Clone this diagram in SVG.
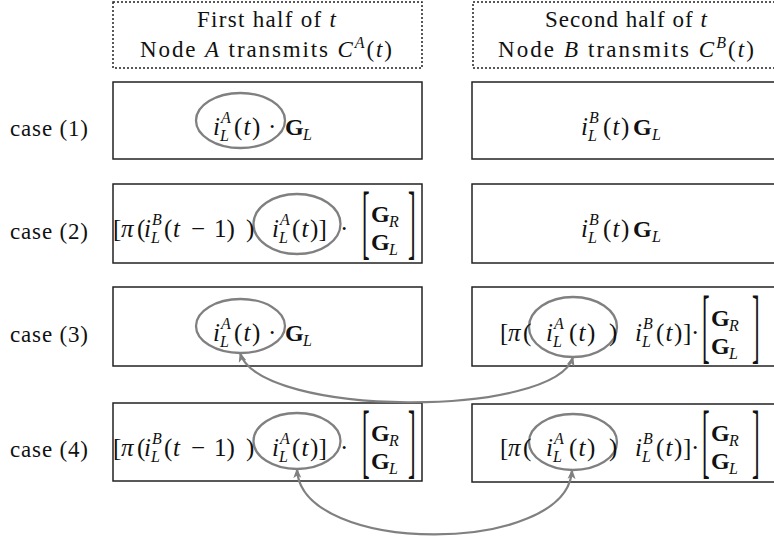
<svg xmlns="http://www.w3.org/2000/svg" width="774" height="542" viewBox="0 0 774 542">
<defs>
<style>
text{font-family:"Liberation Serif",serif;font-size:25px;fill:#111}
.h{font-size:23px}
.i{font-style:italic}
.b{font-weight:bold;font-size:24px}
.s{font-size:16px;font-style:italic}
.big{font-size:82px}
.box{fill:#fff;stroke:#222;stroke-width:1.5}
.hdr{fill:#fff;stroke:#222;stroke-width:1.5;stroke-dasharray:2 2}
.ell{fill:none;stroke:#808080;stroke-width:2.3}
.arr{fill:none;stroke:#808080;stroke-width:2.2;marker-start:url(#ah);marker-end:url(#ah)}
</style>
<marker id="ah" viewBox="0 0 10 10" refX="9" refY="5" markerWidth="10" markerHeight="10" markerUnits="userSpaceOnUse" orient="auto-start-reverse">
<path d="M0,1 L10,5 L0,9 L2.5,5 z" fill="#808080"/>
</marker>
</defs>

<g id="header-first">
<rect class="hdr" x="113" y="2" width="309" height="66"/>
<text class="h" x="197" y="27" textLength="139" lengthAdjust="spacing">First half of <tspan class="i">t</tspan></text>
<text class="h" x="140" y="57" textLength="252" lengthAdjust="spacing">Node <tspan class="i">A</tspan> transmits <tspan class="i">C</tspan><tspan class="s" dy="-9">A</tspan><tspan dy="9">(</tspan><tspan class="i">t</tspan>)</text>
</g>

<g id="header-second">
<rect class="hdr" x="473" y="2" width="310" height="66"/>
<text class="h" x="545" y="27" textLength="162" lengthAdjust="spacing">Second half of <tspan class="i">t</tspan></text>
<text class="h" x="498" y="57" textLength="256" lengthAdjust="spacing">Node <tspan class="i">B</tspan> transmits <tspan class="i">C</tspan><tspan class="s" dy="-9">B</tspan><tspan dy="9">(</tspan><tspan class="i">t</tspan>)</text>
</g>

<g id="labels">
<text class="h" x="10" y="136" textLength="78" lengthAdjust="spacing">case (1)</text>
<text class="h" x="10" y="239" textLength="78" lengthAdjust="spacing">case (2)</text>
<text class="h" x="10" y="342" textLength="78" lengthAdjust="spacing">case (3)</text>
<text class="h" x="10" y="457" textLength="78" lengthAdjust="spacing">case (4)</text>
</g>

<g id="case1-first">
<rect class="box" x="113" y="82" width="309" height="77"/>
<ellipse class="ell" cx="240.5" cy="120.5" rx="44.5" ry="27.5"/>
<text class="i" x="213" y="135">i</text>
<text class="s" x="221" y="123">A</text>
<text class="s" x="220" y="141">L</text>
<text x="234 243.5 252" y="135">(<tspan class="i">t</tspan>)</text>
<text x="268" y="135">·</text>
<text class="b" x="285" y="135">G</text>
<text class="s" x="303" y="140">L</text>
</g>

<g id="case1-second">
<rect class="box" x="472" y="82" width="310" height="77"/>
<text class="i" x="581" y="135">i</text>
<text class="s" x="589" y="123">B</text>
<text class="s" x="588" y="141">L</text>
<text x="603 612.5 621" y="135">(<tspan class="i">t</tspan>)</text>
<text class="b" x="633" y="135">G</text>
<text class="s" x="652" y="140">L</text>
</g>

<g id="case2-first">
<rect class="box" x="113" y="184" width="309" height="79"/>
<ellipse class="ell" cx="297" cy="224" rx="43.5" ry="30"/>
<text x="113 121 137" y="237">[<tspan class="i">π</tspan>(</text>
<text class="i" x="144" y="237">i</text>
<text class="s" x="152" y="225">B</text>
<text class="s" x="151" y="243">L</text>
<text x="164 173" y="237">(<tspan class="i">t</tspan></text>
<text x="191" y="237">−</text>
<text x="214 226.5 246" y="237">1))</text>
<text class="i" x="272" y="237">i</text>
<text class="s" x="280" y="225">A</text>
<text class="s" x="279" y="243">L</text>
<text x="292 301.5 310 318.5" y="237">(<tspan class="i">t</tspan>)]</text>
<text x="340" y="237">·</text>
<text class="big" transform="translate(362,249) scale(0.28,1)">[</text>
<text class="b" x="371" y="222">G</text>
<text class="s" x="389" y="227">R</text>
<text class="b" x="371" y="250">G</text>
<text class="s" x="389" y="255">L</text>
<text class="big" transform="translate(408,249) scale(0.28,1)">]</text>
</g>

<g id="case2-second">
<rect class="box" x="472" y="184" width="310" height="79"/>
<text class="i" x="581" y="237">i</text>
<text class="s" x="589" y="225">B</text>
<text class="s" x="588" y="243">L</text>
<text x="603 612.5 621" y="237">(<tspan class="i">t</tspan>)</text>
<text class="b" x="633" y="237">G</text>
<text class="s" x="652" y="242">L</text>
</g>

<g id="case3-first">
<rect class="box" x="113" y="287" width="309" height="79"/>
<ellipse class="ell" cx="240.5" cy="326" rx="44.5" ry="27"/>
<text class="i" x="213" y="341">i</text>
<text class="s" x="221" y="329">A</text>
<text class="s" x="220" y="347">L</text>
<text x="234 243.5 252" y="341">(<tspan class="i">t</tspan>)</text>
<text x="268" y="341">·</text>
<text class="b" x="285" y="341">G</text>
<text class="s" x="303" y="346">L</text>
</g>

<g id="case3-second">
<rect class="box" x="472" y="287" width="310" height="79"/>
<ellipse class="ell" cx="573" cy="327" rx="44" ry="30"/>
<text x="500 508 523" y="341">[<tspan class="i">π</tspan>(</text>
<text class="i" x="546" y="341">i</text>
<text class="s" x="554" y="329">A</text>
<text class="s" x="553" y="347">L</text>
<text x="569 578.5 587 609" y="341">(<tspan class="i">t</tspan>))</text>
<text class="i" x="635" y="341">i</text>
<text class="s" x="643" y="329">B</text>
<text class="s" x="642" y="347">L</text>
<text x="656 665.5 674 683" y="341">(<tspan class="i">t</tspan>)]</text>
<text x="691" y="341">·</text>
<text class="big" transform="translate(702,353) scale(0.28,1)">[</text>
<text class="b" x="711" y="326">G</text>
<text class="s" x="729" y="331">R</text>
<text class="b" x="711" y="354">G</text>
<text class="s" x="729" y="359">L</text>
<text class="big" transform="translate(752,353) scale(0.28,1)">]</text>
</g>

<g id="case4-first">
<rect class="box" x="113" y="403" width="309" height="78"/>
<ellipse class="ell" cx="297" cy="441" rx="43.5" ry="28"/>
<text x="113 121 137" y="456">[<tspan class="i">π</tspan>(</text>
<text class="i" x="144" y="456">i</text>
<text class="s" x="152" y="444">B</text>
<text class="s" x="151" y="462">L</text>
<text x="164 173" y="456">(<tspan class="i">t</tspan></text>
<text x="191" y="456">−</text>
<text x="214 226.5 246" y="456">1))</text>
<text class="i" x="272" y="456">i</text>
<text class="s" x="280" y="444">A</text>
<text class="s" x="279" y="462">L</text>
<text x="292 301.5 310 318.5" y="456">(<tspan class="i">t</tspan>)]</text>
<text x="340" y="456">·</text>
<text class="big" transform="translate(362,468) scale(0.28,1)">[</text>
<text class="b" x="371" y="441">G</text>
<text class="s" x="389" y="446">R</text>
<text class="b" x="371" y="469">G</text>
<text class="s" x="389" y="474">L</text>
<text class="big" transform="translate(408,468) scale(0.28,1)">]</text>
</g>

<g id="case4-second">
<rect class="box" x="472" y="404" width="310" height="78"/>
<ellipse class="ell" cx="573" cy="442" rx="44" ry="28"/>
<text x="500 508 523" y="456">[<tspan class="i">π</tspan>(</text>
<text class="i" x="546" y="456">i</text>
<text class="s" x="554" y="444">A</text>
<text class="s" x="553" y="462">L</text>
<text x="569 578.5 587 609" y="456">(<tspan class="i">t</tspan>))</text>
<text class="i" x="635" y="456">i</text>
<text class="s" x="643" y="444">B</text>
<text class="s" x="642" y="462">L</text>
<text x="656 665.5 674 683" y="456">(<tspan class="i">t</tspan>)]</text>
<text x="691" y="456">·</text>
<text class="big" transform="translate(702,468) scale(0.28,1)">[</text>
<text class="b" x="711" y="441">G</text>
<text class="s" x="729" y="446">R</text>
<text class="b" x="711" y="469">G</text>
<text class="s" x="729" y="474">L</text>
<text class="big" transform="translate(752,468) scale(0.28,1)">]</text>
</g>

<g id="connectors">
<path class="arr" d="M240,353 C260,418 556,418 573,357"/>
<path class="arr" d="M297,469 C300,556 568,556 572,470"/>
</g>
</svg>
